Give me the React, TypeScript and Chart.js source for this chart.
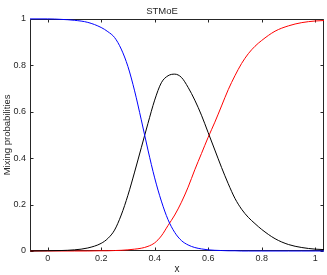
import React, { useEffect, useRef } from "react";
import { Chart, registerables } from "chart.js";

Chart.register(...registerables);

const xValues = [-0.066, 0, 0.05, 0.1, 0.15, 0.2, 0.225, 0.25, 0.275, 0.3, 0.325, 0.35, 0.375, 0.4, 0.425, 0.45, 0.475, 0.5, 0.525, 0.55, 0.575, 0.6, 0.625, 0.65, 0.675, 0.7, 0.725, 0.75, 0.775, 0.8, 0.85, 0.9, 0.95, 1.0, 1.033];
const mixBlue = [1.0, 1.0, 0.998, 0.994, 0.985, 0.963, 0.945, 0.92, 0.87, 0.795, 0.69, 0.565, 0.435, 0.315, 0.215, 0.135, 0.08, 0.045, 0.026, 0.015, 0.009, 0.005, 0.003, 0.002, 0.001, 0.001, 0, 0, 0, 0, 0, 0, 0, 0, 0];
const mixBlack = [0, 0.001, 0.002, 0.005, 0.013, 0.033, 0.054, 0.09, 0.155, 0.24, 0.34, 0.445, 0.55, 0.65, 0.725, 0.755, 0.762, 0.748, 0.705, 0.65, 0.585, 0.51, 0.435, 0.36, 0.29, 0.227, 0.18, 0.145, 0.118, 0.093, 0.053, 0.028, 0.015, 0.008, 0.006];
const mixRed = [0, 0, 0, 0, 0, 0.001, 0.001, 0.002, 0.003, 0.005, 0.008, 0.012, 0.02, 0.035, 0.065, 0.11, 0.155, 0.21, 0.275, 0.35, 0.42, 0.49, 0.555, 0.625, 0.695, 0.755, 0.808, 0.85, 0.882, 0.907, 0.947, 0.97, 0.984, 0.991, 0.993];
const xTicks = [0, 0.2, 0.4, 0.6, 0.8, 1];
const yTicks = [0, 0.2, 0.4, 0.6, 0.8, 1];
const xMin = -0.066;
const xMax = 1.033;
const titleText = "STMoE";
const xLabel = "x";
const yLabel = "Mixing probabilities";

const axisColor = "#262626";
const fontFamily = "'Liberation Sans', Arial, Helvetica, sans-serif";

const fmt = (v: number) => (v === 0 ? "0" : v === 1 ? "1" : Number(v.toFixed(1)).toString());

const boxPlugin = {
  id: "matlabBox",
  beforeDatasetsDraw(chart: any) {
    const { ctx, chartArea: a, scales } = chart;
    const L = Math.round(a.left) + 0.5;
    const R = Math.round(a.right) - 0.5;
    const T = Math.round(a.top) + 0.5;
    const B = Math.round(a.bottom) - 0.5;
    ctx.save();
    ctx.strokeStyle = axisColor;
    ctx.lineWidth = 1;
    ctx.beginPath();
    ctx.rect(L, T, R - L, B - T);
    const tl = 3;
    for (const v of xTicks) {
      const px = Math.round(scales.x.getPixelForValue(v)) + 0.5;
      ctx.moveTo(px, B);
      ctx.lineTo(px, B - tl);
      ctx.moveTo(px, T);
      ctx.lineTo(px, T + tl);
    }
    for (const v of yTicks) {
      const py = Math.round(scales.y.getPixelForValue(v)) + 0.5;
      ctx.moveTo(L, py);
      ctx.lineTo(L + tl, py);
      ctx.moveTo(R, py);
      ctx.lineTo(R - tl, py);
    }
    ctx.stroke();
    ctx.restore();
  },
};

const mk = (vals: number[]) => xValues.map((x, i) => ({ x, y: vals[i] }));

export default function App() {
  const ref = useRef<HTMLCanvasElement | null>(null);
  useEffect(() => {
    if (!ref.current) return;
    const chart = new Chart(ref.current, {
      type: "line",
      data: {
        datasets: [
          { label: "blue", data: mk(mixBlue), borderColor: "#0000ff", borderWidth: 1, pointRadius: 0, cubicInterpolationMode: "monotone", fill: false, clip: 3 },
          { label: "black", data: mk(mixBlack), borderColor: "#000000", borderWidth: 1, pointRadius: 0, cubicInterpolationMode: "monotone", fill: false, clip: 3 },
          { label: "red", data: mk(mixRed), borderColor: "#ff0000", borderWidth: 1, pointRadius: 0, cubicInterpolationMode: "monotone", fill: false, clip: 3 },
        ],
      },
      options: {
        animation: false,
        responsive: false,
        maintainAspectRatio: false,
        layout: { padding: { left: 0, right: 3, top: 0, bottom: 0 } },
        plugins: {
          legend: { display: false },
          tooltip: { enabled: false },
          title: {
            display: true,
            text: titleText,
            color: axisColor,
            font: { family: fontFamily, size: 9.5, weight: "normal" },
            padding: { top: 5.5, bottom: 2 },
          },
        },
        scales: {
          x: {
            type: "linear",
            min: xMin,
            max: xMax,
            grid: { display: false, drawTicks: false },
            border: { display: false },
            afterBuildTicks: (s: any) => {
              s.ticks = xTicks.map((v) => ({ value: v }));
            },
            afterFit: (s: any) => {
              s.height = 24;
            },
            ticks: {
              padding: 2,
              maxRotation: 0,
              autoSkip: false,
              color: axisColor,
              font: { family: fontFamily, size: 9 },
              callback: (v: any) => fmt(Number(v)),
            },
            title: {
              display: true,
              text: xLabel,
              color: axisColor,
              font: { family: fontFamily, size: 10 },
              padding: { top: 0, bottom: 0 },
            },
          },
          y: {
            type: "linear",
            min: 0,
            max: 1,
            grid: { display: false, drawTicks: false },
            border: { display: false },
            afterBuildTicks: (s: any) => {
              s.ticks = yTicks.map((v) => ({ value: v }));
            },
            afterFit: (s: any) => {
              s.width = 30;
            },
            ticks: {
              padding: 4,
              autoSkip: false,
              color: axisColor,
              font: { family: fontFamily, size: 9 },
              callback: (v: any) => fmt(Number(v)),
            },
            title: {
              display: true,
              text: yLabel,
              color: axisColor,
              font: { family: fontFamily, size: 9.5 },
              padding: { top: 2, bottom: 0 },
            },
          },
        },
      },
      plugins: [boxPlugin],
    } as any);
    return () => chart.destroy();
  }, []);
  return (
    <div style={{ position: "fixed", left: 0, top: 0, width: 327, height: 275, background: "#fff" }}>
      <canvas ref={ref} width={327} height={275} style={{ display: "block", width: 327, height: 275 }} />
    </div>
  );
}
